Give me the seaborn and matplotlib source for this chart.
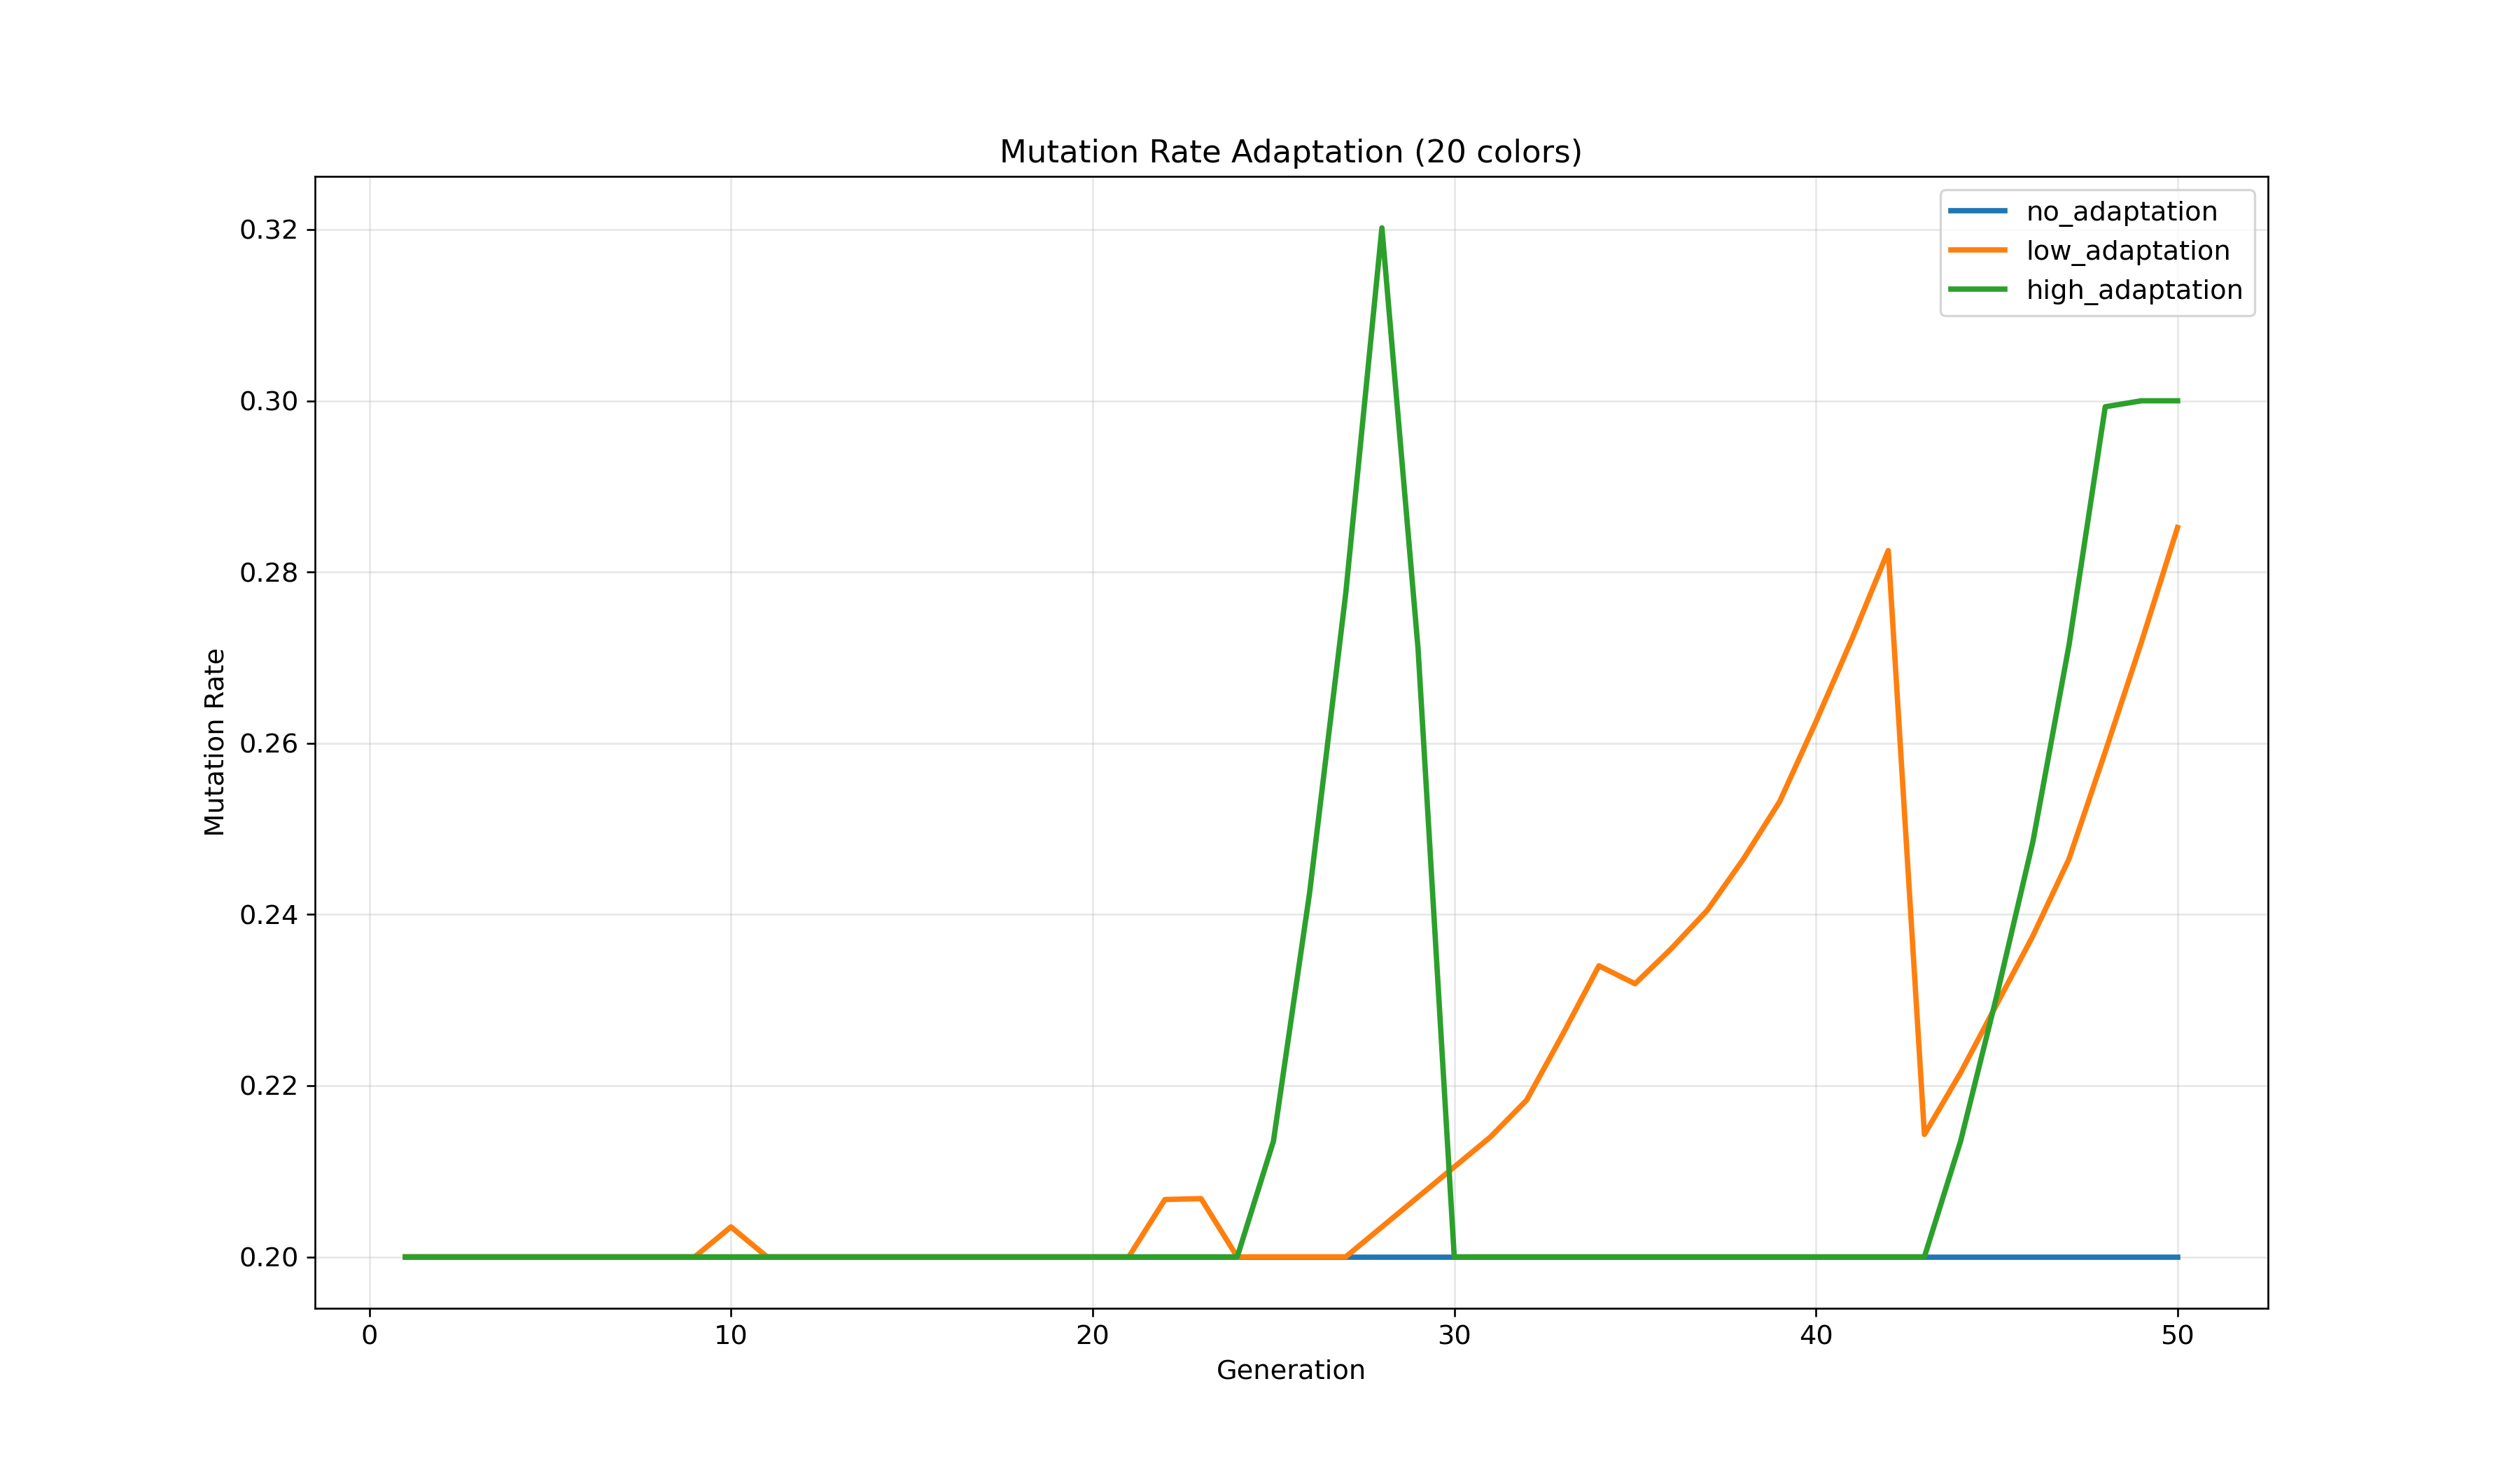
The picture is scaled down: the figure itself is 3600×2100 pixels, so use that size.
import numpy as np
import pandas as pd
import matplotlib
matplotlib.use('Agg')
import matplotlib.pyplot as plt
import seaborn as sns

generations = list(range(1, 51))

no_adaptation = [0.2] * 50

low_adaptation = [0.2] * 9 + [0.2035] + [0.2] * 11 + [0.2067, 0.2068] + [0.2] * 4 + [
    0.2035, 0.207, 0.2105, 0.214, 0.2183, 0.226, 0.234, 0.2319, 0.236, 0.2405,
    0.2465, 0.2532, 0.2625, 0.2722, 0.2825, 0.2143, 0.2215, 0.2295, 0.2375, 0.2465,
    0.259, 0.2718, 0.2852]

high_adaptation = [0.2] * 24 + [0.2135, 0.2425, 0.2775, 0.3202, 0.271] + [0.2] * 14 + [
    0.2135, 0.2305, 0.2485, 0.2715, 0.2993, 0.3, 0.3]

df = pd.DataFrame({
    'Generation': generations * 3,
    'Mutation Rate': no_adaptation + low_adaptation + high_adaptation,
    'strategy': ['no_adaptation'] * 50 + ['low_adaptation'] * 50 + ['high_adaptation'] * 50,
})

# reference text is a bit larger than default at this size
plt.rcParams['font.size'] = 11.5

fig, ax = plt.subplots(figsize=(15, 8.75), dpi=240)
sns.lineplot(data=df, x='Generation', y='Mutation Rate', hue='strategy',
             palette=['#1f77b4', '#ff7f0e', '#2ca02c'], linewidth=2.3, ax=ax)
ax.set_title('Mutation Rate Adaptation (20 colors)', fontsize=13.5)
ax.grid(True, alpha=0.3)
ax.set_xticks([0, 10, 20, 30, 40, 50])
ax.set_xlim(-1.5, 52.5)
ax.legend(loc='upper right')
fig.savefig('out.png', dpi=240)
